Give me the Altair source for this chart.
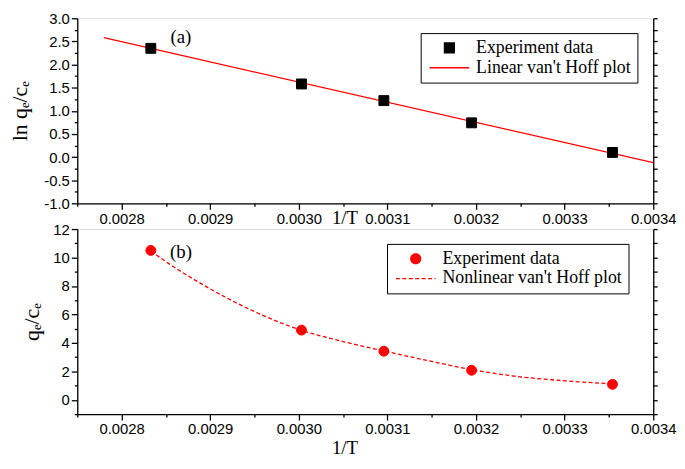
import altair as alt
import pandas as pd

# ---------------- data ----------------
inv_T = [0.002833, 0.003003, 0.003096, 0.003195, 0.003354]
ln_qc = [2.35, 1.58, 1.22, 0.74, 0.10]
qc = [10.5, 4.9, 3.42, 2.08, 1.09]

lin_x = [0.00278, 0.0034]
lin_y = [2.58, -0.12]

fit_x = [0.002833, 0.00286, 0.0029, 0.00295, 0.0030, 0.00305, 0.0031,
         0.00315, 0.0032, 0.00325, 0.0033, 0.003354]
fit_y = [10.45, 9.3, 7.8, 6.2, 4.95, 4.1, 3.38, 2.7, 2.07, 1.62, 1.34, 1.13]

x_ticks = [0.00275, 0.0028, 0.00285, 0.0029, 0.00295, 0.0030, 0.00305,
           0.0031, 0.00315, 0.0032, 0.00325, 0.0033, 0.00335, 0.0034]
ya_ticks = [-1.0, -0.75, -0.5, -0.25, 0.0, 0.25, 0.5, 0.75, 1.0, 1.25, 1.5,
            1.75, 2.0, 2.25, 2.5, 2.75, 3.0]
yb_ticks = [-1, 0, 1, 2, 3, 4, 5, 6, 7, 8, 9, 10, 11, 12]

panel_labels = ["(a)", "(b)"]
panel_label_x = [0.002867, 0.002867]
panel_label_y = [2.6, 10.4]

dom_a = ["Experiment data", "Linear van't Hoff plot"]
dom_b = ["Experiment data", "Nonlinear van't Hoff plot"]

# ---------------- tables ----------------
pts_a = pd.DataFrame({"x": inv_T, "y": ln_qc, "sa": dom_a[0]})
line_a = pd.DataFrame({"x": lin_x, "y": lin_y, "sa": dom_a[1]})
pts_b = pd.DataFrame({"x": inv_T, "y": qc, "sb": dom_b[0]})
line_b = pd.DataFrame({"x": fit_x, "y": fit_y, "sb": dom_b[1]})
lab_a = pd.DataFrame({"x": [panel_label_x[0]], "y": [panel_label_y[0]], "t": [panel_labels[0]]})
lab_b = pd.DataFrame({"x": [panel_label_x[1]], "y": [panel_label_y[1]], "t": [panel_labels[1]]})

W, H = 582, 187
SANS = "Liberation Sans"
SERIF = "Liberation Serif"
LINE_SYMBOL = "M-4,0H4"

x_major = "abs(datum.value*10000 - round(datum.value*10000)) < 0.01"
ya_major = "abs(datum.value*2 - round(datum.value*2)) < 0.01"
yb_major = "abs(datum.value/2 - round(datum.value/2)) < 0.01"


def x_axis(title_y):
    return alt.Axis(
        values=x_ticks,
        labelExpr=f"{x_major} ? format(datum.value, '.4f') : ''",
        tickSize={"condition": {"test": x_major, "value": 6}, "value": 3},
        title="1/T", titleFont=SERIF, titleFontSize=19, titleFontWeight="normal",
        titleColor="black",
        titleX=270, titleY=title_y, titleBaseline="middle", titleAlign="center",
        labelFont=SANS, labelFontSize=15, labelColor="black", labelPadding=2,
        domainColor="black", domainWidth=1.3, tickColor="black", tickWidth=1.3,
        grid=False, labelFlush=False, labelOverlap=False,
    )


def y_axis(values, major, fmt, title, title_x):
    return alt.Axis(
        values=values,
        labelExpr=f"{major} ? (datum.value < 0 ? '-' : '') + format(abs(datum.value), '{fmt}') : ''",
        tickSize={"condition": {"test": major, "value": 6}, "value": 3},
        title=title, titleFont=SERIF, titleFontSize=22, titleFontWeight="normal",
        titleX=title_x, titleBaseline="middle", titleColor="black",
        labelFont=SANS, labelFontSize=15, labelColor="black", labelPadding=2,
        domainColor="black", domainWidth=1.3, tickColor="black", tickWidth=1.3,
        grid=False, labelFlush=False, labelOverlap=False,
    )


def right_axis(values):
    return alt.Axis(
        orient="right", values=values, labels=False, title=None, tickSize=4,
        domainColor="black", domainWidth=1.3, tickColor="black", tickWidth=1.3,
        grid=False,
    )


def legend(lx, ly):
    return alt.Legend(
        orient="none", legendX=lx, legendY=ly, title=None,
        strokeColor="black", fillColor="white", padding=6,
        labelFont=SERIF, labelFontSize=18, labelColor="black",
        symbolSize=100, symbolOffset=14, labelOffset=18,
        labelLimit=0, symbolStrokeWidth=1.3, rowPadding=2,
    )


def panel(pts, line, lab, field, dom, shapes, fills, yvals, ydom, major, fmt, ytitle,
          ytitle_x, xtitle_y, lx, ly, dashed):
    xenc = alt.X("x:Q", scale=alt.Scale(domain=[0.00275, 0.0034], nice=False, zero=False),
                 axis=x_axis(xtitle_y))
    yscale = alt.Scale(domain=ydom, nice=False, zero=False)
    leg = legend(lx, ly)
    f = f"{field}:N"

    line_enc = dict(
        x=xenc,
        y=alt.Y("y:Q", scale=yscale, axis=right_axis(yvals)),
        stroke=alt.Stroke(f, scale=alt.Scale(domain=dom, range=fills), legend=leg),
    )
    if dashed:
        line_enc["strokeDash"] = alt.StrokeDash(
            f, scale=alt.Scale(domain=dom, range=[[1, 0], [4, 2.5]]), legend=leg)
    line_layer = alt.Chart(line).mark_line(
        strokeWidth=1.3, interpolate="monotone" if dashed else "linear").encode(**line_enc)

    pts_layer = alt.Chart(pts).mark_point(filled=True, opacity=1, strokeWidth=1, size=100).encode(
        x=xenc,
        y=alt.Y("y:Q", scale=yscale, axis=y_axis(yvals, major, fmt, ytitle, ytitle_x)),
        shape=alt.Shape(f, scale=alt.Scale(domain=dom, range=shapes), legend=leg),
        fill=alt.Fill(f, scale=alt.Scale(domain=dom, range=fills), legend=leg),
        stroke=alt.Stroke(f, scale=alt.Scale(domain=dom, range=fills), legend=leg),
    )

    text_layer = alt.Chart(lab).mark_text(
        font=SERIF, fontSize=19, color="black", align="center", baseline="middle"
    ).encode(
        x=xenc,
        y=alt.Y("y:Q", scale=yscale, axis=None),
        text="t:N",
    )

    return alt.layer(line_layer, pts_layer, text_layer).resolve_axis(y="independent").properties(
        width=W, height=H)


top = panel(pts_a, line_a, lab_a, "sa", dom_a, ["square", LINE_SYMBOL], ["black", "#ff0000"],
            ya_ticks, [-1, 3], ya_major, ".1f", "ln qₑ/cₑ", -58, 14, 347, 15, False)
bottom = panel(pts_b, line_b, lab_b, "sb", dom_b, ["circle", LINE_SYMBOL], ["#ff0000", "#ff0000"],
               yb_ticks, [-1, 12], yb_major, ".0f", "qₑ/cₑ", -46, 34, 313, 15, True)

chart = alt.vconcat(top, bottom, spacing=26, bounds="flush").resolve_scale(
    fill="independent", stroke="independent", shape="independent",
    strokeDash="independent"
).resolve_legend(
    fill="independent", stroke="independent", shape="independent",
    strokeDash="independent"
).properties(
    padding=0
).configure_view(stroke="black", strokeWidth=1.3).configure(background="white")

chart.save("out.html", embed_options={"renderer": "svg", "actions": False})
